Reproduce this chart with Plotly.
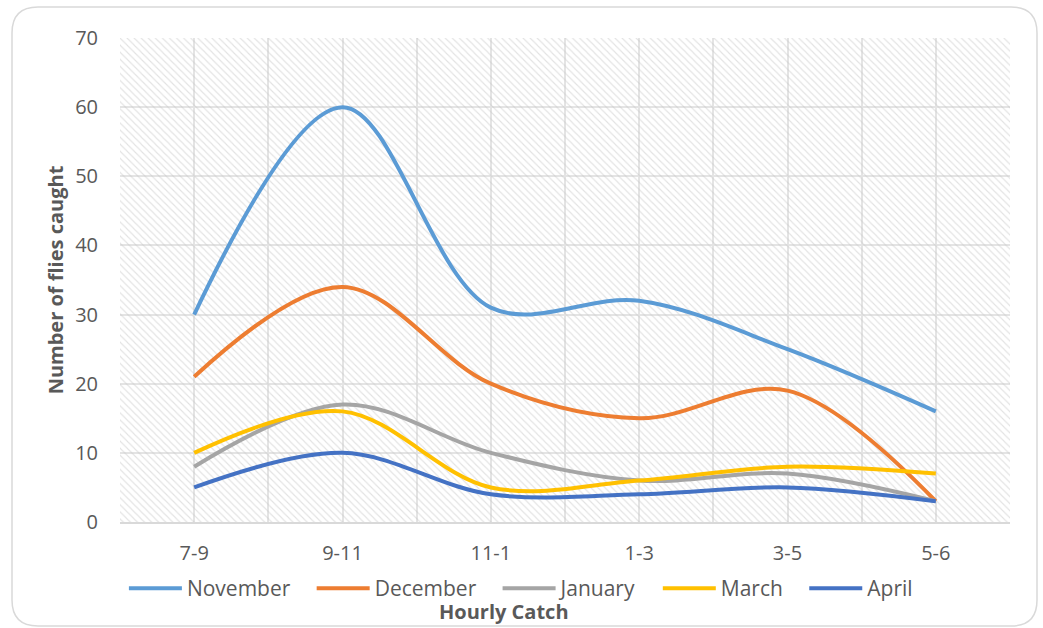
import plotly.graph_objects as go

categories = ["7-9", "9-11", "11-1", "1-3", "3-5", "5-6"]
november = [30, 60, 31, 32, 25, 16]
december = [21, 34, 20, 15, 19, 3]
january = [8, 17, 10, 6, 7, 3]
march = [10, 16, 5, 6, 8, 7]
april = [5, 10, 4, 4, 5, 3]

series = [
    ("November", november, "#5B9BD5"),
    ("December", december, "#ED7D31"),
    ("January", january, "#A5A5A5"),
    ("March", march, "#FFC000"),
    ("April", april, "#4472C4"),
]

W, H = 1043, 628
L, R, T, B = 120, 33, 38, 106
x_lo, x_hi = -0.5, len(categories) - 0.5
y_lo, y_hi = 0, 70
PAD = "\u00a0\u00a0\u00a0"

fig = go.Figure()

# hatched plot-area background (transparent between hatch lines so gridlines show)
fig.add_trace(go.Scatter(
    x=[x_lo, x_hi, x_hi, x_lo, x_lo], y=[y_lo, y_lo, y_hi, y_hi, y_lo],
    mode="lines", line=dict(width=0), fill="toself", fillcolor="rgba(0,0,0,0)",
    fillpattern=dict(shape="\\", fgcolor="#c6c6c6", bgcolor="rgba(0,0,0,0)", size=5, solidity=0.22),
    showlegend=False, hoverinfo="skip"))

xs = list(range(len(categories)))
for name, vals, col in series:
    fig.add_trace(go.Scatter(
        x=xs, y=vals, name=name + PAD, mode="lines",
        line=dict(color=col, width=4, shape="spline", smoothing=1.0)))

pw, ph = W - L - R, H - T - B
def px(v): return (v - L) / pw
def py(v): return (H - B - v) / ph
x0, x1, y0, y1 = 12, 1037, 7, 626
r = 26
rx, ry = r / pw, r / ph
path = (f"M {px(x0)+rx} {py(y0)} L {px(x1)-rx} {py(y0)} "
        f"Q {px(x1)} {py(y0)} {px(x1)} {py(y0)-ry} "
        f"L {px(x1)} {py(y1)+ry} Q {px(x1)} {py(y1)} {px(x1)-rx} {py(y1)} "
        f"L {px(x0)+rx} {py(y1)} Q {px(x0)} {py(y1)} {px(x0)} {py(y1)+ry} "
        f"L {px(x0)} {py(y0)-ry} Q {px(x0)} {py(y0)} {px(x0)+rx} {py(y0)} Z")

fig.update_layout(
    width=W, height=H,
    margin=dict(l=L, r=R, t=T, b=B),
    paper_bgcolor="white", plot_bgcolor="white",
    font=dict(family="Open Sans", size=20, color="#595959"),
    showlegend=True,
    legend=dict(orientation="h", x=0.46, xanchor="center", y=py(568), yanchor="top",
                font=dict(size=21, color="#595959"), itemwidth=53,
                tracegroupgap=0, bgcolor="rgba(0,0,0,0)"),
    xaxis=dict(range=[x_lo, x_hi], tickmode="array", tickvals=xs, ticktext=categories,
               showgrid=True, gridcolor="#e4e4e4", gridwidth=1.5,
               minor=dict(tick0=-0.5, dtick=1, showgrid=True, gridcolor="#e4e4e4", gridwidth=1.5),
               showline=True, linecolor="#d9d9d9", linewidth=2,
               ticks="", ticklabelstandoff=12, zeroline=False, fixedrange=True),
    yaxis=dict(range=[y_lo, y_hi], dtick=10, showgrid=True, gridcolor="#e4e4e4", gridwidth=1.5,
               zeroline=False, ticks="", ticklabelstandoff=21, showline=False, fixedrange=True,
               title=dict(text="<b>Number of flies caught</b>", font=dict(size=20, color="#595959"),
                          standoff=6)),
    shapes=[dict(type="path", path=path, xref="paper", yref="paper",
                 line=dict(color="#d9d9d9", width=1.5), fillcolor="rgba(0,0,0,0)", layer="below")],
    annotations=[dict(text="<b>Hourly Catch</b>", x=px(504), y=py(611), xref="paper", yref="paper",
                      yanchor="middle", showarrow=False, font=dict(size=20, color="#595959"))],
)

fig.write_html("out.html", config={"displayModeBar": False},
               post_script="document.body.style.margin='0';document.body.style.overflow='hidden';")
